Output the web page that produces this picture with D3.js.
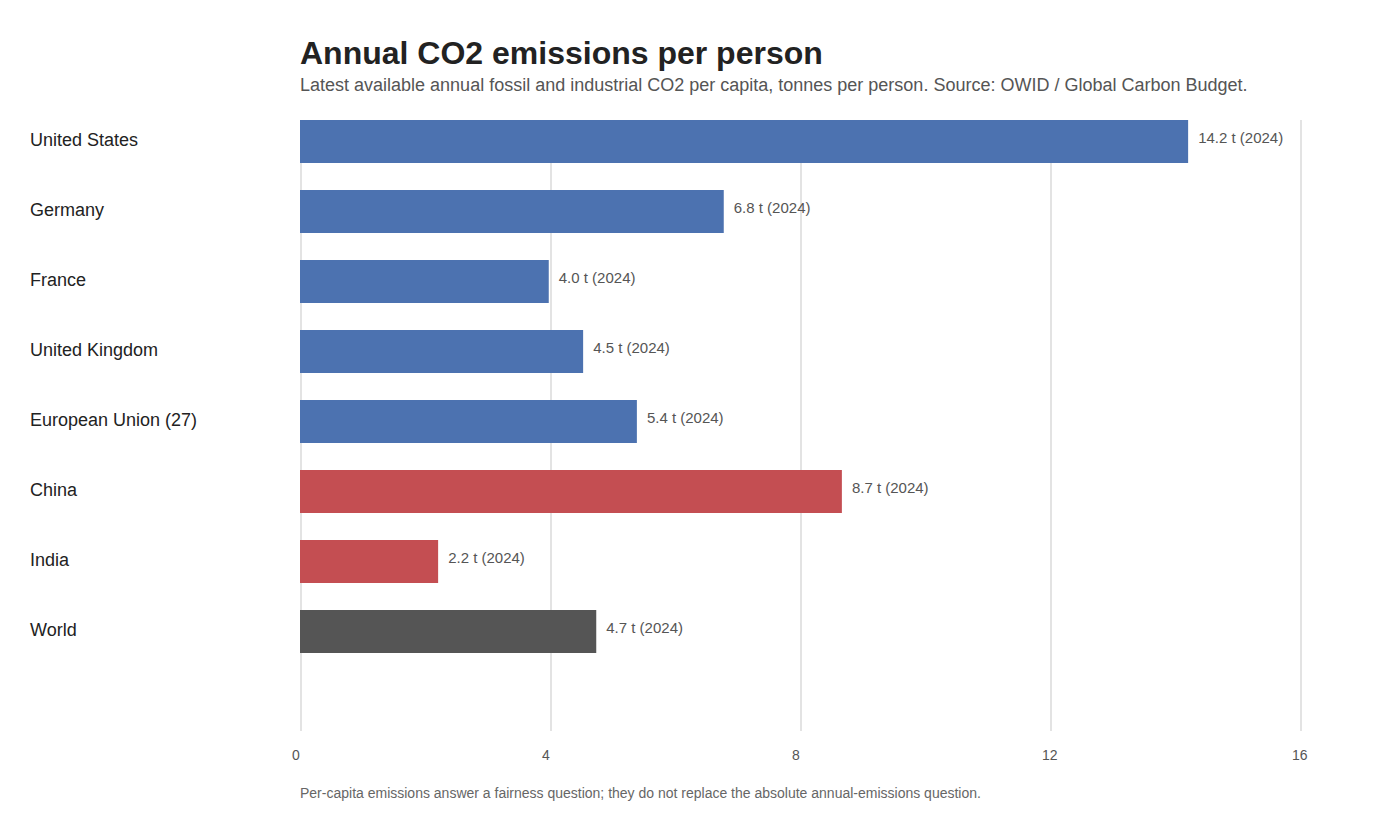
<!DOCTYPE html>
<html><head><meta charset="utf-8">
<script src="https://cdn.jsdelivr.net/npm/d3@7"></script>
<style>body{margin:0;background:#fff;font-family:"Liberation Sans",Arial,sans-serif;}</style>
</head><body><svg id="c" width="1400" height="820"></svg>
<script>
const categories = ["United States","Germany","France","United Kingdom","European Union (27)","China","India","World"];
const values = [14.21, 6.78, 3.98, 4.53, 5.39, 8.67, 2.21, 4.74];
const years = [2024,2024,2024,2024,2024,2024,2024,2024];
const groups = ["west","west","west","west","west","asia","asia","world"];
const tickValues = [0,4,8,12,16];
const colors = {west:"#4c72b0", asia:"#c44e52", world:"#555555"};

const svg = d3.select("#c");
const x = d3.scaleLinear().domain([0,16]).range([300,1300]);
const y = d3.scaleBand().domain(categories).range([120,653]).paddingInner(27/70).paddingOuter(0);

svg.append("g").selectAll("line").data(tickValues).join("line")
  .attr("x1",d=>x(d)+1).attr("x2",d=>x(d)+1).attr("y1",120).attr("y2",731)
  .attr("stroke","#e3e3e3").attr("stroke-width",2);

svg.append("g").selectAll("text").data(tickValues).join("text")
  .attr("x",d=>x(d)-8).attr("y",760).attr("font-size",14).attr("fill","#555")
  .text(d=>d);

svg.append("g").selectAll("rect").data(categories).join("rect")
  .attr("x",x(0)).attr("y",d=>y(d)).attr("height",y.bandwidth())
  .attr("width",(d,i)=>x(values[i])-x(0))
  .attr("fill",(d,i)=>colors[groups[i]]);

svg.append("g").selectAll("text").data(categories).join("text")
  .attr("x",(d,i)=>x(values[i])+10).attr("y",d=>y(d)+y.bandwidth()/2+1)
  .attr("font-size",15).attr("fill","#555")
  .text((d,i)=>values[i].toFixed(1)+" t ("+years[i]+")");

svg.append("g").selectAll("text").data(categories).join("text")
  .attr("x",30).attr("y",d=>y(d)+y.bandwidth()/2+4.5)
  .attr("font-size",18).attr("fill","#222").text(d=>d);

svg.append("text").attr("x",300).attr("y",64).attr("font-size",32).attr("font-weight","bold")
  .attr("fill","#222").text("Annual CO2 emissions per person");
svg.append("text").attr("x",300).attr("y",91).attr("font-size",18).attr("fill","#555")
  .text("Latest available annual fossil and industrial CO2 per capita, tonnes per person. Source: OWID / Global Carbon Budget.");
svg.append("text").attr("x",300).attr("y",798).attr("font-size",14).attr("fill","#666")
  .text("Per-capita emissions answer a fairness question; they do not replace the absolute annual-emissions question.");
</script></body></html>
